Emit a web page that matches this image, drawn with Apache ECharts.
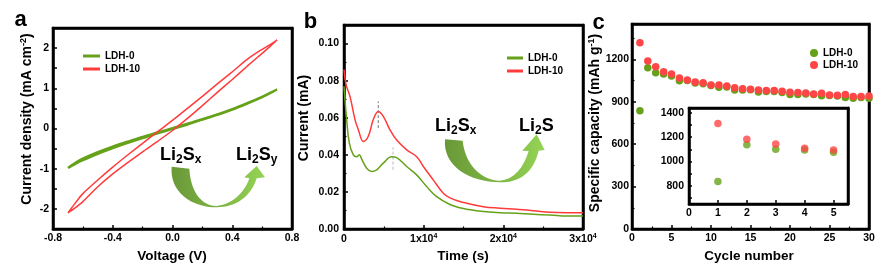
<!DOCTYPE html>
<html><head><meta charset="utf-8">
<script src="https://cdn.jsdelivr.net/npm/echarts@6/dist/echarts.min.js"></script>
<style>html,body{margin:0;padding:0;background:#fff}#c{width:884px;height:269px}</style>
</head><body><div id="c"></div>
<script>
// ---------- Panel a : CV curves ----------
const cvVolt   = [-0.7,-0.65,-0.6,-0.5,-0.4,-0.3,-0.2,-0.1,0,0.1,0.2,0.3,0.4,0.5,0.6,0.65,0.7];
const ldh0Fwd  = [-0.98,-0.88,-0.79,-0.63,-0.49,-0.36,-0.24,-0.12,-0.01,0.10,0.22,0.34,0.47,0.62,0.78,0.87,0.97];
const ldh0Rev  = [-0.98,-0.85,-0.75,-0.59,-0.45,-0.33,-0.21,-0.10,0.01,0.12,0.23,0.35,0.48,0.63,0.79,0.88,0.97];
const ldh10Fwd = [-2.10,-1.97,-1.82,-1.45,-1.13,-0.85,-0.58,-0.32,-0.05,0.25,0.57,0.90,1.22,1.55,1.87,2.03,2.20];
const ldh10Rev = [-2.10,-1.85,-1.62,-1.28,-0.96,-0.66,-0.37,-0.08,0.20,0.50,0.80,1.11,1.41,1.72,1.97,2.08,2.20];

// ---------- Panel b : potentiostatic current ----------
const timeRed  = [0,250,750,1380,1800,2430,3050,3680,4310,4930,5770,6610,7870,9120,9960,11200,12460,13300,14550,15400,17480,19580,21670,23760,25860,27950,30000];
const currRed  = [0.086,0.078,0.0715,0.059,0.0535,0.0472,0.050,0.059,0.0634,0.0607,0.0535,0.048,0.0427,0.039,0.0337,0.0265,0.0193,0.0168,0.0148,0.0139,0.012,0.0112,0.0106,0.0099,0.009,0.0088,0.0088];
const timeGreen= [0,335,670,1170,1590,1920,2220,2850,3480,4100,4930,5980,6610,7870,9120,10370,11630,13300,14550,15400,17480,19580,21670,23760,25860,27950,30000];
const currGreen= [0.077,0.059,0.0463,0.040,0.039,0.040,0.0377,0.0328,0.031,0.0319,0.0355,0.039,0.0385,0.0337,0.0292,0.0229,0.0175,0.0132,0.0115,0.0107,0.0094,0.0088,0.0085,0.0079,0.0076,0.007,0.007];
const peakTimes = [4300, 6150];
const peakRedSpan = [0.0544, 0.0688];
const peakGreenSpan = [0.032, 0.044];

// ---------- Panel c : cycling ----------
const cycles = [1,2,3,4,5,6,7,8,9,10,11,12,13,14,15,16,17,18,19,20,21,22,23,24,25,26,27,28,29,30];
const cap0  = [837,1141,1106,1096,1082,1049,1050,1033,1028,1015,1002,1005,983,983,985,969,972,972,966,952,952,955,952,943,945,941,931,924,931,924];
const cap10 = [1317,1188,1148,1112,1096,1068,1054,1040,1035,1018,1018,1011,999,992,988,983,980,980,974,967,965,962,955,960,948,946,952,938,938,941];
const insetCycles = [1,2,3,4,5];
const inset0  = [835,1137,1100,1094,1076];
const inset10 = [1313,1183,1143,1108,1094];
const insetYLabels = [800,1000,1200,1400];
const insetYTicks = [700,800,900,1000,1100,1200,1300,1400];

const G = '#66a11a', R = '#ff3b3b';
const font = 'Arial, "Liberation Sans", sans-serif';

function loop(x, fwd, rev){
  const out = x.map((v,i)=>[v,fwd[i]]);
  for (let i = x.length-2; i >= 0; i--) out.push([x[i], rev[i]]);
  return out;
}
function pairs(x, y){ return x.map((v,i)=>[v,y[i]]); }

function ax(gi, min, max, interval, label, extra){
  const a = {
    type:'value', gridIndex:gi, min:min, max:max,
    splitLine:{show:false},
    axisLine:{show:true, onZero:false, lineStyle:{color:'#000', width:2.5}},
    axisTick:{show:true, inside:true, length:4, lineStyle:{color:'#000', width:1.5}},
    minorTick:{show:true, splitNumber:2, length:2.5, lineStyle:{color:'#000', width:1.2}},
    axisLabel:Object.assign({color:'#000', fontFamily:font, fontWeight:'bold', fontSize:10.5, margin:4}, label||{})
  };
  if (interval != null) a.interval = interval;
  return Object.assign(a, extra||{});
}
function frame(gi, min, max, pos){
  return {type:'value', gridIndex:gi, min:min, max:max, position:pos,
    axisLine:{show:true, onZero:false, lineStyle:{color:'#000', width:2.5}},
    axisTick:{show:false}, axisLabel:{show:false}, splitLine:{show:false}, minorTick:{show:false}};
}

const arrowA = 'M65 110 C58 185 125 232 200 232 C258 232 303 200 320 145 L345 142 L320 108 L283 142 L298 145 C282 192 243 224 200 228 C150 226 122 180 118 116 Z';
const arrowB = 'M75 118 C68 200 150 247 240 247 C300 247 340 218 356 152 L374 150 L350 103 L307 152 L326 153 C310 205 282 238 240 242 C180 240 135 190 128 122 Z';
echarts.graphic.registerShape('arrowA', echarts.graphic.extendPath(arrowA, {}));
echarts.graphic.registerShape('arrowB', echarts.graphic.extendPath(arrowB, {}));
const arrowFill = new echarts.graphic.LinearGradient(0, 0, 1, 0, [{offset:0,color:'#6a9838'},{offset:0.5,color:'#7db443'},{offset:1,color:'#95d456'}]);

const liRich = {
  m:{fontSize:18, fontWeight:'bold', fontFamily:font, lineHeight:22, fill:'#000', color:'#000'},
  s:{fontSize:12, fontWeight:'bold', fontFamily:font, lineHeight:10, verticalAlign:'bottom', fill:'#000', color:'#000'}
};
const titleRich = {
  t:{fontSize:14, fontWeight:'bold', fontFamily:font, lineHeight:16, fill:'#000', color:'#000'},
  p:{fontSize:9, fontWeight:'bold', fontFamily:font, lineHeight:9, verticalAlign:'top', fill:'#000', color:'#000'}
};
function txt(x, y, text, size){
  return {type:'text', x:x, y:y, z:100,
    style:{text:text, font:'bold '+size+'px '+font, fill:'#000', textAlign:'center', textVerticalAlign:'middle'}};
}
function richTxt(x, y, text, rich, rot, align, valign){
  return {type:'text', x:x, y:y, rotation:rot||0, z:100,
    style:{text:text, rich:rich, fill:'#000', textAlign:align||'center', textVerticalAlign:valign||'middle'}};
}
const plain = v => String(v);
const gridFrame = {show:true, borderColor:'#000', borderWidth:2.5, backgroundColor:'transparent'};

const chart = echarts.init(document.getElementById('c'), null, {renderer:'canvas'});
chart.setOption({
  animation:false,
  backgroundColor:'#fff',
  grid:[
    Object.assign({left:53, top:28, width:239, height:201}, gridFrame),
    Object.assign({left:344, top:25, width:239, height:204}, gridFrame),
    Object.assign({left:632, top:24, width:237, height:205}, gridFrame),
    {left:689, top:108, width:159, height:96, show:true, borderColor:'#000', borderWidth:2.5, backgroundColor:'#fff'}
  ],
  xAxis:[
    ax(0, -0.8, 0.8, 0.4, {formatter:v=>Math.abs(v)<1e-9?'0.0':v.toFixed(1)}),
    ax(1, 0, 30000, 10000, {lineHeight:12, formatter:v=>v===0?'0':(Math.round(v/10000)+'x10{sup|4}'),
      rich:{sup:{fontSize:7, fontWeight:'bold', fontFamily:font, color:'#000', lineHeight:7, verticalAlign:'top'}}}),
    ax(2, 0, 30, 5, {formatter:plain}),
    ax(3, 0, 5.5, 1, {showMaxLabel:false, formatter:plain}, {minorTick:{show:false}}),
    frame(0, -0.8, 0.8, 'top'), frame(1, 0, 30000, 'top'), frame(2, 0, 30, 'top'), frame(3, 0, 5.5, 'top')
  ],
  yAxis:[
    ax(0, -2.5, 2.5, 0.5, {formatter:v=>Math.abs(v-Math.round(v))<1e-9?String(Math.round(v)):''}, {minorTick:{show:false}}),
    ax(1, 0, 0.11, 0.02, {margin:5, showMaxLabel:false, formatter:v=>v.toFixed(2)}),
    ax(2, 0, 1450, 300, {margin:3, showMaxLabel:false, formatter:plain}),
    ax(3, 650, 1440, null, {margin:5, customValues:insetYLabels, formatter:plain}, {axisTick:{show:true, inside:true, length:3, customValues:insetYTicks, lineStyle:{color:'#000', width:1.5}}, minorTick:{show:false}}),
    frame(0, -2.5, 2.5, 'right'), frame(1, 0, 0.11, 'right'), frame(2, 0, 1450, 'right'), frame(3, 650, 1440, 'right')
  ],
  legend:[
    {left:78, top:46, orient:'vertical', itemWidth:17, itemHeight:3, itemGap:3, icon:'rect',
     textStyle:{fontSize:10, fontWeight:'bold', fontFamily:font, color:'#000', lineHeight:10}, data:['LDH-0','LDH-10']},
    {left:502, top:48, orient:'vertical', itemWidth:16, itemHeight:3, itemGap:3, icon:'rect',
     textStyle:{fontSize:10, fontWeight:'bold', fontFamily:font, color:'#000', lineHeight:10}, data:['LDH-0 ','LDH-10 ']},
    {left:805, top:43, orient:'vertical', itemWidth:8, itemHeight:8, itemGap:2, icon:'circle',
     textStyle:{fontSize:10, fontWeight:'bold', fontFamily:font, color:'#000', lineHeight:10}, data:['LDH-0  ','LDH-10  ']}
  ],
  series:[
    {type:'line', name:'LDH-0', xAxisIndex:0, yAxisIndex:0, data:loop(cvVolt, ldh0Fwd, ldh0Rev), symbol:'none', smooth:0.3,
     lineStyle:{color:G, width:2.4}, itemStyle:{color:G}},
    {type:'line', name:'LDH-10', xAxisIndex:0, yAxisIndex:0, data:loop(cvVolt, ldh10Fwd, ldh10Rev), symbol:'none', smooth:0.3,
     lineStyle:{color:R, width:1.5}, itemStyle:{color:R}},
    {type:'line', name:'peakR', xAxisIndex:1, yAxisIndex:1, data:[[peakTimes[0],peakRedSpan[0]],[peakTimes[0],peakRedSpan[1]]], symbol:'none', silent:true,
     lineStyle:{color:'#777', width:1, type:[3,2]}},
    {type:'line', name:'peakG', xAxisIndex:1, yAxisIndex:1, data:[[peakTimes[1],peakGreenSpan[0]],[peakTimes[1],peakGreenSpan[1]]], symbol:'none', silent:true,
     lineStyle:{color:'#bbb', width:1, type:[3,2]}},
    {type:'line', name:'LDH-0 ', xAxisIndex:1, yAxisIndex:1, data:pairs(timeGreen, currGreen), symbol:'none', smooth:0.4,
     lineStyle:{color:G, width:1.5}, itemStyle:{color:G}},
    {type:'line', name:'LDH-10 ', xAxisIndex:1, yAxisIndex:1, data:pairs(timeRed, currRed), symbol:'none', smooth:0.4,
     lineStyle:{color:R, width:1.5}, itemStyle:{color:R}},
    {type:'scatter', name:'LDH-0  ', xAxisIndex:2, yAxisIndex:2, data:pairs(cycles, cap0), symbolSize:7.5, itemStyle:{color:G, opacity:1}},
    {type:'scatter', name:'LDH-10  ', xAxisIndex:2, yAxisIndex:2, data:pairs(cycles, cap10), symbolSize:7.5, itemStyle:{color:'#ff4545', opacity:1}},
    {type:'scatter', name:'in0', xAxisIndex:3, yAxisIndex:3, data:pairs(insetCycles, inset0), symbolSize:7.5, itemStyle:{color:G}, z:5},
    {type:'scatter', name:'in10', xAxisIndex:3, yAxisIndex:3, data:pairs(insetCycles, inset10), symbolSize:7.5, itemStyle:{color:'#ff4545'}, z:5}
  ],
  graphic:[
    {type:'arrowA', x:150, y:130, scaleX:1/3, scaleY:1/3, z:50, style:{fill:arrowFill}},
    {type:'arrowB', x:420, y:100, scaleX:1/3, scaleY:1/3, z:50, style:{fill:arrowFill}},
    richTxt(160, 144, '{m|Li}{s|2}{m|S}{s|x}', liRich, 0, 'left', 'top'),
    richTxt(236, 144, '{m|Li}{s|2}{m|S}{s|y}', liRich, 0, 'left', 'top'),
    richTxt(435, 115, '{m|Li}{s|2}{m|S}{s|x}', liRich, 0, 'left', 'top'),
    richTxt(519, 115, '{m|Li}{s|2}{m|S}', liRich, 0, 'left', 'top'),
    txt(20.5, 20.4, 'a', 22),
    txt(310.5, 21.9, 'b', 22),
    txt(598.5, 22.9, 'c', 22),
    txt(172, 256, 'Voltage (V)', 13.5),
    txt(463, 256, 'Time (s)', 13.5),
    txt(749, 256, 'Cycle number', 13.5),
    richTxt(27, 119, '{t|Current density (mA cm}{p|-2}{t|)}', titleRich, Math.PI/2),
    richTxt(304, 118, '{t|Current (mA)}', titleRich, Math.PI/2),
    richTxt(595, 123, '{t|Specific capacity (mAh g}{p|-1}{t|)}', titleRich, Math.PI/2)
  ]
});
</script>
</body></html>
